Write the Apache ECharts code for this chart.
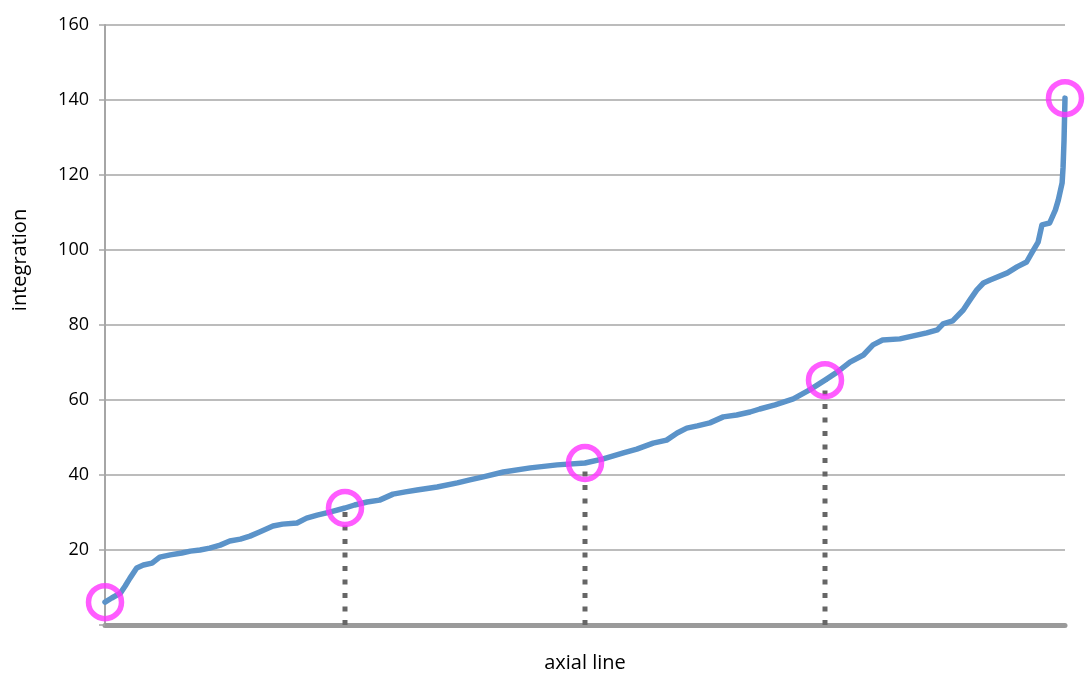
<!DOCTYPE html>
<html>
<head>
<meta charset="utf-8">
<title>integration along axial line</title>
<script src="https://cdn.jsdelivr.net/npm/echarts@6/dist/echarts.min.js"></script>
<style>
  html, body { margin: 0; padding: 0; background: #ffffff; }
  #chart { width: 1091px; height: 678px; }
</style>
</head>
<body>
<div id="chart"></div>
<script>
// Position along the axial line (percent of its length)
const axialPos = [
  0, 0.7, 1.6, 2.1, 2.6, 3.3, 4.0, 4.9, 5.7, 6.8, 8.0, 8.9, 9.9, 10.9, 12.0,
  13.0, 14.1, 15.1, 16.1, 17.5, 18.5, 20.0, 21.0, 22.1, 23.4, 25.0, 26.0, 27.3,
  28.6, 30.0, 31.3, 32.5, 34.6, 36.7, 38.0, 39.4, 41.5, 44.3, 47.1, 50.0, 51.9,
  54.0, 55.4, 57.1, 58.5, 59.6, 60.6, 61.7, 63.0, 64.4, 65.8, 67.2, 68.2, 69.8,
  71.7, 73.4, 75.0, 76.3, 77.6, 79.0, 80.0, 81.0, 82.8, 84.2, 85.6, 86.7, 87.3,
  88.3, 89.4, 90.1, 90.8, 91.5, 92.2, 94.0, 95.0, 96.0, 96.6, 97.2, 97.6, 98.4,
  99.0, 99.3, 99.7, 99.8, 99.9, 100
];
// Integration value at each position
const integration = [
  6.1, 7.2, 8.5, 10.4, 12.5, 15.2, 16.0, 16.5, 18.1, 18.7, 19.2, 19.7, 20.0, 20.5, 21.3,
  22.4, 22.9, 23.7, 24.8, 26.4, 26.9, 27.2, 28.5, 29.3, 30.1, 31.2, 32.0, 32.8,
  33.3, 34.9, 35.5, 36.0, 36.8, 37.9, 38.7, 39.5, 40.8, 41.9, 42.7, 43.2, 44.3,
  45.9, 46.9, 48.5, 49.3, 51.2, 52.5, 53.1, 53.9, 55.5, 56.0, 56.8, 57.6, 58.7,
  60.3, 62.7, 65.3, 67.5, 70.1, 72.0, 74.7, 76.0, 76.3, 77.1, 77.9, 78.7, 80.3,
  81.1, 84.0, 86.7, 89.3, 91.2, 92.0, 93.9, 95.5, 96.8, 99.5, 102.1, 106.7, 107.2,
  110.7, 113.3, 117.9, 122.1, 129.3, 140.5
];
// Highlighted positions (start, quartiles, end)
const markerPos = [0, 25, 50, 75, 100];
const markerVal = [6.1, 31.2, 43.2, 65.3, 140.5];
// Quartile drop lines
const dropPos = [25, 50, 75];
const dropVal = [31.2, 43.2, 65.3];
// Y axis
const yMin = 0, yMax = 160, yStep = 20;

const lineData = axialPos.map((x, i) => [x, integration[i]]);
const markerData = markerPos.map((x, i) => [x, markerVal[i]]);

const dropSeries = dropPos.map((x, i) => ({
  type: 'line',
  data: [[x, 0], [x, dropVal[i]]],
  showSymbol: false,
  silent: true,
  z: 1,
  lineStyle: { color: '#666666', width: 5, type: [5, 8.5], cap: 'butt' }
}));

const chart = echarts.init(document.getElementById('chart'), null, { renderer: 'canvas' });
chart.setOption({
  animation: false,
  backgroundColor: '#ffffff',
  grid: { left: 105, right: 26, top: 25, bottom: 53, containLabel: false, outerBoundsMode: 'none' },
  // vertical axis title, set a little above the plot's middle
  graphic: [{
    type: 'text',
    x: 20,
    y: 260,
    rotation: Math.PI / 2,
    silent: true,
    style: {
      text: 'integration',
      fontFamily: 'Open Sans',
      fontSize: 20,
      fill: '#000000',
      align: 'center',
      verticalAlign: 'middle'
    }
  }],
  xAxis: {
    type: 'value',
    min: 0,
    max: 100,
    name: 'axial line',
    nameLocation: 'middle',
    nameGap: 28,
    nameTextStyle: { fontFamily: 'Open Sans', fontSize: 20, color: '#000000' },
    axisLine: { show: true, onZero: false, lineStyle: { color: '#9a9a9a', width: 5 } },
    axisTick: { show: false },
    axisLabel: { show: false },
    splitLine: { show: false }
  },
  yAxis: {
    type: 'value',
    min: yMin,
    max: yMax,
    interval: yStep,
    axisLine: { show: true, lineStyle: { color: '#a6a6a6', width: 2 } },
    axisTick: { show: true, length: 6, lineStyle: { color: '#a6a6a6', width: 1.5 } },
    axisLabel: {
      margin: 16,
      fontFamily: 'Open Sans',
      fontSize: 18,
      color: '#000000',
      formatter: v => (v === 0 ? '' : String(v))
    },
    splitLine: { show: true, lineStyle: { color: '#a6a6a6', width: 1.5 } }
  },
  series: [
    ...dropSeries,
    {
      type: 'line',
      data: lineData,
      showSymbol: false,
      z: 3,
      lineStyle: { color: '#5b93c9', width: 5.5, join: 'round', cap: 'round' }
    },
    {
      type: 'scatter',
      data: markerData,
      symbol: 'circle',
      symbolSize: 33,
      z: 4,
      itemStyle: { color: 'rgba(0,0,0,0)', borderColor: '#ff33ff', borderWidth: 5.5 }
    }
  ]
});
</script>
</body>
</html>
